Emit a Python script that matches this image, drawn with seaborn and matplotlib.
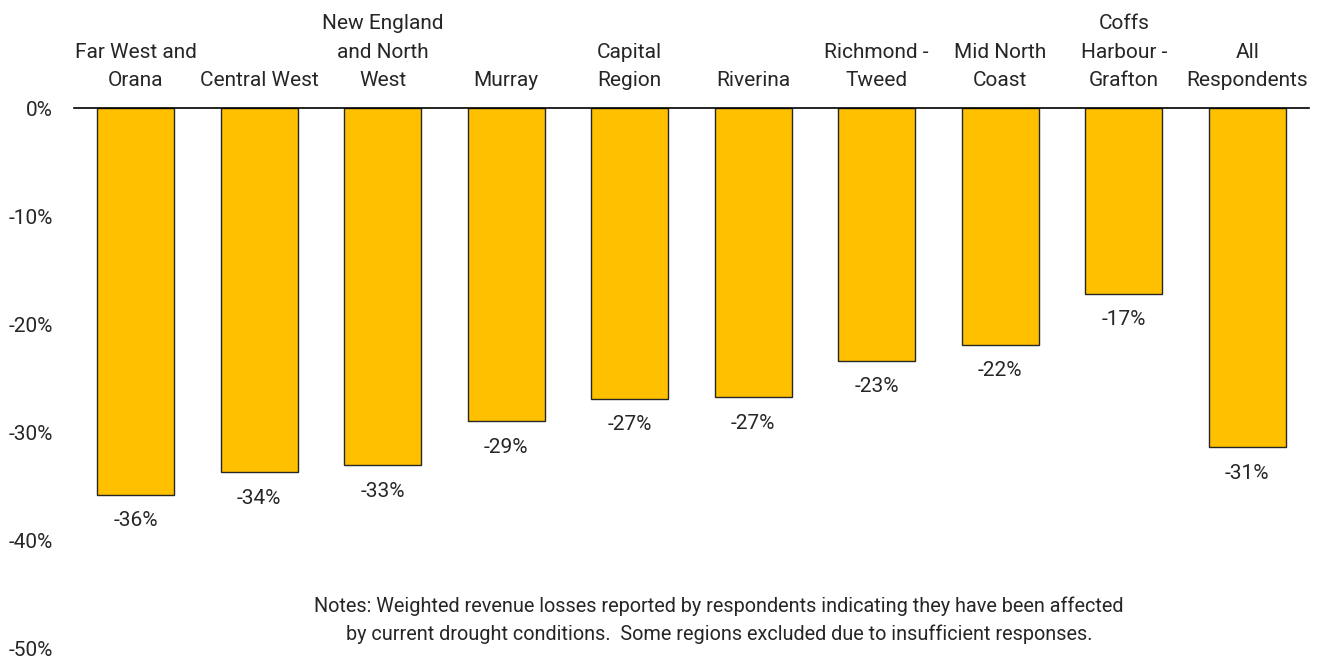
import matplotlib
matplotlib.use("Agg")
import matplotlib.pyplot as plt
import seaborn as sns
import pandas as pd
from matplotlib.ticker import FuncFormatter

# data
regions = ["Far West and\nOrana", "Central West", "New England\nand North\nWest", "Murray",
           "Capital\nRegion", "Riverina", "Richmond -\nTweed", "Mid North\nCoast",
           "Coffs\nHarbour -\nGrafton", "All\nRespondents"]
loss = [-35.8, -33.7, -33.1, -29.0, -26.9, -26.8, -23.4, -21.9, -17.2, -31.4]
y_ticks = [0, -10, -20, -30, -40, -50]
note = ("Notes: Weighted revenue losses reported by respondents indicating they have been affected\n"
        "by current drought conditions.  Some regions excluded due to insufficient responses.")

df = pd.DataFrame({"region": regions, "loss": loss})

sns.set_style("white")
plt.rcParams["font.family"] = ["Liberation Sans Narrow", "Roboto", "DejaVu Sans"]

fig = plt.figure(figsize=(13.23, 6.6), dpi=100)
ax = fig.add_axes([74 / 1323, 12 / 660, (1309 - 74) / 1323, (648 - 108) / 660])

sns.barplot(data=df, x="region", y="loss", color="#FFC000", edgecolor="#262626",
            linewidth=1.0, width=0.62, saturation=1, ax=ax)

ax.set_ylim(-50, 0)
ax.set_yticks(y_ticks)
ax.yaxis.set_major_formatter(FuncFormatter(lambda v, p: f"{v:.0f}%"))
ax.xaxis.tick_top()
ax.tick_params(axis="x", length=0, labelsize=15, pad=13)
ax.tick_params(axis="y", length=0, labelsize=15, pad=15)
for lbl in ax.get_xticklabels():
    lbl.set_linespacing(1.62)
ax.set_xlabel("")
ax.set_ylabel("")
for s in ["left", "right", "bottom"]:
    ax.spines[s].set_visible(False)
ax.spines["top"].set_color("black")
ax.spines["top"].set_linewidth(1.2)

for i, v in enumerate(loss):
    ax.annotate(f"{round(v):.0f}%", (i, v), xytext=(0, -12), textcoords="offset points",
                ha="center", va="top", fontsize=15)

fig.text(719 / 1323, 40 / 660, note, ha="center", va="center", fontsize=14.3, linespacing=1.55)

fig.savefig("out.png", dpi=100)
